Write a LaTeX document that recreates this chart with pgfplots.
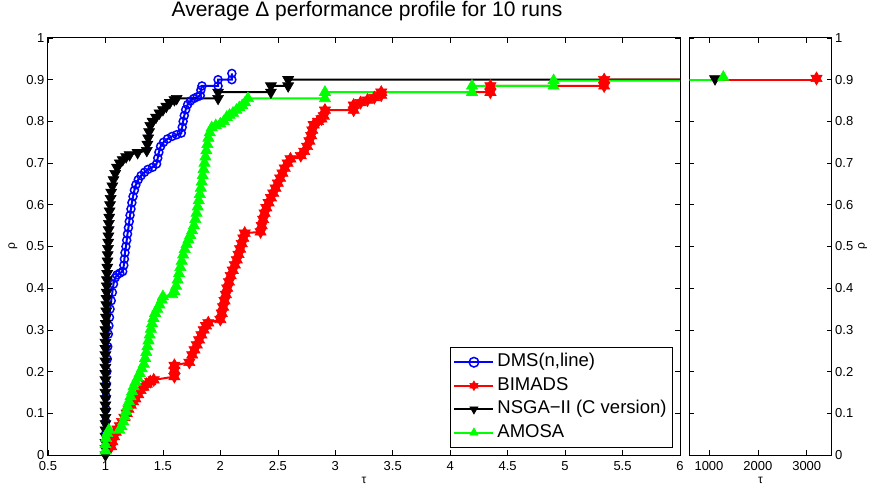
\documentclass[border=0pt]{standalone}
\usepackage{fontspec}
\setmainfont{Liberation Sans}
\usepackage{pgfplots}
\pgfplotsset{compat=1.18}

\pgfdeclareplotmark{hexagram}{%
  \pgfpathmoveto{\pgfpointpolar{90}{\pgfplotmarksize}}%
  \pgfpathlineto{\pgfpointpolar{210}{\pgfplotmarksize}}%
  \pgfpathlineto{\pgfpointpolar{330}{\pgfplotmarksize}}%
  \pgfpathclose
  \pgfpathmoveto{\pgfpointpolar{270}{\pgfplotmarksize}}%
  \pgfpathlineto{\pgfpointpolar{30}{\pgfplotmarksize}}%
  \pgfpathlineto{\pgfpointpolar{150}{\pgfplotmarksize}}%
  \pgfpathclose
  \pgfusepathqfillstroke}

\definecolor{mblue}{rgb}{0,0,1}
\definecolor{mred}{rgb}{1,0,0}
\definecolor{mgreen}{rgb}{0,1,0}

\pgfplotsset{
  common/.style={
    scale only axis, height=417pt,
    ymin=0, ymax=1,
    ytick={0,0.1,0.2,0.3,0.4,0.5,0.6,0.7,0.8,0.9,1},
    yticklabels={0,0.1,0.2,0.3,0.4,0.5,0.6,0.7,0.8,0.9,1},
    tick align=inside, xtick pos=both, ytick pos=both,
    major tick length=5pt,
    tick style={black, line width=0.6pt},
    axis line style={line width=1pt},
    ticklabel style={font=\fontsize{13}{13}\selectfont},
    xticklabel style={inner ysep=0pt, yshift=-6pt},
    yticklabel style={inner ysep=0pt},
    /pgf/number format/assume math mode=true,
    /pgf/number format/1000 sep={},
    scaled x ticks=false,
    xlabel style={font=\fontsize{12}{12}\selectfont, at={(axis description cs:0.5,0)}, anchor=base, yshift=-28.5pt},
    ylabel style={font=\fontsize{12}{12}\selectfont},
    clip=true,
  },
  dms/.style={color=mblue, line width=2pt, mark=o, mark size=4pt, mark options={solid, line width=1.5pt, draw=mblue}},
  bim/.style={color=mred, line width=2pt, mark=hexagram, mark size=6.5pt, mark options={solid, fill=mred, draw=mred, line width=0.6pt}},
  nsga/.style={color=black, line width=2pt, mark=triangle*, mark size=6.3pt, mark options={solid, rotate=180, fill=black, draw=black, line width=0.6pt}},
  amosa/.style={color=mgreen, line width=2pt, mark=triangle*, mark size=6.5pt, mark options={solid, fill=mgreen, draw=mgreen, line width=0.6pt}},
}

\begin{document}
\begin{tikzpicture}
\useasboundingbox (-48pt,-32pt) rectangle (824pt,455pt);
\begin{axis}[common,
  at={(0pt,0pt)}, anchor=south west, width=632pt,
  xmin=0.5, xmax=6,
  xtick={0.5,1,1.5,2,2.5,3,3.5,4,4.5,5,5.5,6},
  xticklabels={0.5,1,1.5,2,2.5,3,3.5,4,4.5,5,5.5,6},
  xlabel={τ}, ylabel={ρ},
  ylabel style={at={(axis description cs:0,0.5)}, anchor=center, yshift=35pt},
  title={Average Δ performance profile for 10 runs},
  title style={font=\fontsize{21}{21}\selectfont, at={(axis description cs:0.5,1)}, anchor=base, yshift=15pt, xshift=3pt},
  legend cell align=left,
  legend style={at={(axis description cs:0.989,0.0168)}, anchor=south east,
    font=\fontsize{18.5}{18.5}\selectfont, draw=black, line width=1pt,
    inner xsep=3pt, inner ysep=3pt,
    nodes={inner sep=3pt, text height=13.5pt, text depth=4pt}},
  legend image code/.code={\draw[mark repeat=2, mark phase=2, mark size=4.8pt] plot coordinates {(0pt,0pt) (19.5pt,0pt) (39pt,0pt)};},
]
% DMS(n,line)
\addplot[dms] coordinates {
(1.000,0.020)(1.000,0.050)(1.002,0.080)(1.004,0.110)(1.006,0.140)(1.008,0.170)(1.012,0.200)(1.016,0.230)
(1.020,0.260)(1.025,0.290)(1.030,0.310)(1.035,0.330)(1.040,0.350)(1.050,0.370)(1.060,0.390)(1.070,0.410)
(1.085,0.425)(1.100,0.432)(1.125,0.436)(1.150,0.440)(1.160,0.455)(1.165,0.470)(1.170,0.485)(1.178,0.500)
(1.185,0.515)(1.192,0.530)(1.200,0.545)(1.207,0.560)(1.214,0.575)(1.222,0.590)(1.230,0.605)(1.240,0.620)
(1.252,0.635)(1.265,0.648)(1.285,0.660)(1.310,0.670)(1.340,0.678)(1.370,0.685)(1.410,0.690)(1.445,0.698)
(1.455,0.712)(1.465,0.726)(1.480,0.740)(1.505,0.750)(1.540,0.758)(1.580,0.764)(1.620,0.768)(1.660,0.772)
(1.668,0.786)(1.676,0.800)(1.686,0.814)(1.698,0.828)(1.715,0.840)(1.740,0.849)(1.770,0.855)(1.800,0.859)
(1.825,0.862)(1.830,0.875)(1.840,0.885)(1.980,0.885)(1.980,0.900)(2.100,0.900)(2.100,0.915)
};
\addlegendentry{DMS(n,line)}
% BIMADS
\addplot[bim] coordinates {
(1.050,0.020)(1.060,0.032)(1.075,0.044)(1.090,0.055)(1.105,0.062)(1.125,0.070)(1.145,0.080)(1.165,0.090)
(1.185,0.100)(1.200,0.110)(1.220,0.120)(1.240,0.128)(1.260,0.135)(1.285,0.145)(1.305,0.155)(1.330,0.163)
(1.360,0.170)(1.390,0.176)(1.420,0.180)(1.600,0.188)(1.600,0.203)(1.600,0.215)(1.730,0.222)(1.755,0.240)
(1.775,0.252)(1.795,0.264)(1.815,0.276)(1.835,0.288)(1.855,0.300)(1.875,0.310)(1.895,0.317)(2.000,0.325)
(2.012,0.340)(2.024,0.355)(2.036,0.370)(2.048,0.385)(2.060,0.400)(2.075,0.415)(2.090,0.430)(2.108,0.443)
(2.126,0.456)(2.143,0.468)(2.158,0.481)(2.172,0.494)(2.186,0.507)(2.200,0.520)(2.212,0.532)(2.350,0.535)
(2.360,0.550)(2.372,0.565)(2.385,0.580)(2.400,0.593)(2.420,0.605)(2.440,0.617)(2.460,0.628)(2.480,0.640)
(2.500,0.652)(2.520,0.664)(2.540,0.676)(2.560,0.688)(2.585,0.700)(2.610,0.710)(2.700,0.718)(2.730,0.728)
(2.755,0.740)(2.775,0.753)(2.790,0.766)(2.800,0.779)(2.812,0.792)(2.850,0.800)(2.880,0.806)(2.900,0.813)
(2.910,0.827)(3.160,0.827)(3.160,0.839)(3.220,0.845)(3.280,0.851)(3.340,0.857)(3.400,0.863)(3.400,0.870)
(4.350,0.870)(4.350,0.885)(5.340,0.885)(5.340,0.900)(7.000,0.900)
};
\addlegendentry{BIMADS}
% NSGA-II
\addplot[nsga] coordinates {
(1.000,0.000)(1.000,0.015)(1.000,0.030)(1.000,0.045)(1.000,0.060)(1.000,0.075)(1.000,0.090)(1.000,0.105)
(1.000,0.120)(1.000,0.135)(1.000,0.150)(1.000,0.165)(1.000,0.180)(1.000,0.195)(1.000,0.210)(1.000,0.225)
(1.000,0.240)(1.000,0.255)(1.000,0.270)(1.000,0.285)(1.000,0.300)(1.003,0.315)(1.005,0.330)(1.007,0.345)
(1.008,0.360)(1.010,0.375)(1.011,0.390)(1.012,0.405)(1.013,0.420)(1.015,0.435)(1.016,0.450)(1.018,0.465)
(1.020,0.480)(1.022,0.495)(1.024,0.510)(1.026,0.525)(1.028,0.540)(1.030,0.555)(1.033,0.570)(1.036,0.585)
(1.040,0.600)(1.045,0.615)(1.050,0.630)(1.060,0.645)(1.070,0.660)(1.085,0.675)(1.100,0.690)(1.125,0.700)
(1.150,0.708)(1.180,0.715)(1.210,0.720)(1.280,0.725)(1.360,0.730)(1.365,0.745)(1.372,0.760)(1.380,0.775)
(1.390,0.790)(1.410,0.800)(1.440,0.810)(1.470,0.820)(1.500,0.828)(1.530,0.836)(1.560,0.845)(1.600,0.852)
(1.620,0.855)(1.980,0.855)(1.980,0.870)(2.440,0.870)(2.440,0.885)(2.590,0.885)(2.590,0.900)(7.000,0.900)
};
\addlegendentry{NSGA\textminus II (C version)}
% AMOSA
\addplot[amosa] coordinates {
(1.000,0.010)(1.000,0.025)(1.005,0.040)(1.015,0.052)(1.030,0.060)(1.120,0.060)(1.140,0.068)(1.155,0.080)
(1.168,0.092)(1.180,0.104)(1.192,0.116)(1.205,0.128)(1.218,0.140)(1.232,0.152)(1.245,0.164)(1.262,0.175)
(1.280,0.185)(1.298,0.196)(1.316,0.207)(1.334,0.218)(1.345,0.232)(1.355,0.246)(1.365,0.260)(1.375,0.274)
(1.385,0.288)(1.395,0.302)(1.405,0.315)(1.418,0.328)(1.432,0.340)(1.450,0.350)(1.470,0.360)(1.490,0.372)
(1.500,0.380)(1.580,0.385)(1.600,0.392)(1.615,0.405)(1.628,0.420)(1.640,0.435)(1.652,0.450)(1.664,0.465)
(1.676,0.480)(1.690,0.493)(1.706,0.505)(1.722,0.516)(1.738,0.527)(1.754,0.538)(1.770,0.550)(1.782,0.565)
(1.793,0.580)(1.803,0.595)(1.812,0.610)(1.821,0.625)(1.830,0.640)(1.838,0.655)(1.846,0.670)(1.854,0.685)
(1.862,0.700)(1.870,0.715)(1.878,0.730)(1.887,0.745)(1.896,0.760)(1.908,0.773)(1.925,0.785)(1.960,0.790)
(2.000,0.794)(2.030,0.800)(2.055,0.810)(2.080,0.815)(2.110,0.820)(2.140,0.827)(2.165,0.833)(2.190,0.838)
(2.215,0.845)(2.240,0.855)(2.910,0.855)(2.910,0.870)(4.190,0.870)(4.190,0.885)(4.900,0.885)(4.900,0.898)
(7.000,0.898)
};
\addlegendentry{AMOSA}
\end{axis}

\begin{axis}[common,
  at={(641.3pt,0pt)}, anchor=south west, width=142.4pt,
  xmin=597, xmax=3511,
  xtick={1000,2000,3000},
  xticklabels={1000,2000,3000},
  yticklabel pos=right,
  xlabel={τ}, ylabel={ρ},
  ylabel style={at={(axis description cs:1,0.5)}, anchor=center, yshift=-31pt},
]
\addplot[bim, mark=none] coordinates {(500,0.9)(3200,0.9)};
\addplot[bim, only marks] coordinates {(3200,0.903)};
\addplot[nsga, mark=none] coordinates {(500,0.9)(1123,0.9)};
\addplot[nsga, only marks] coordinates {(1123,0.902)};
\addplot[amosa, mark=none] coordinates {(500,0.9)(1292,0.9)};
\addplot[amosa, only marks] coordinates {(1292,0.906)};
\end{axis}
\end{tikzpicture}
\end{document}
